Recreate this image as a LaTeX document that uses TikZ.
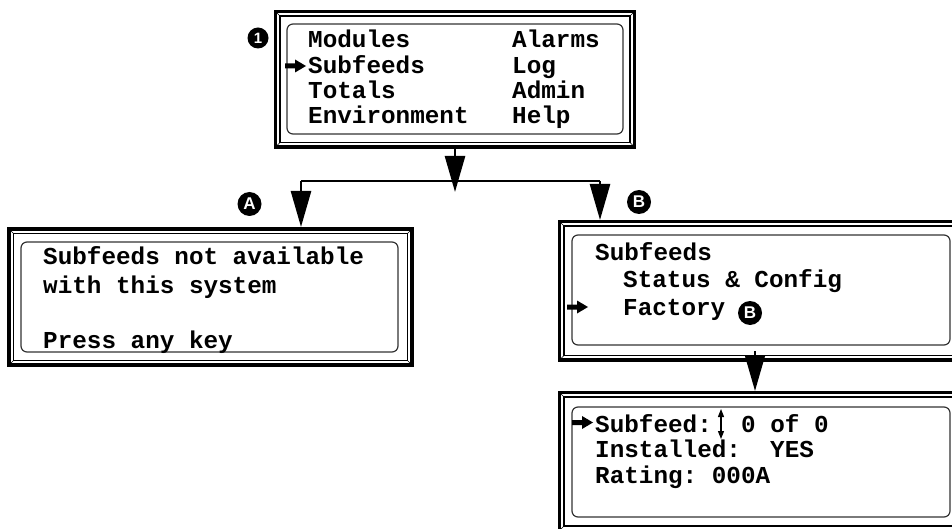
\documentclass[tikz,border=0pt]{standalone}
\usepackage{fontspec}
\setmonofont{Liberation Mono}
\setsansfont{Liberation Sans}
\usetikzlibrary{arrows.meta}
\begin{document}
\begin{tikzpicture}[x=1pt,y=-1pt,
  outerframe/.style={draw, rectangle, line width=3.4pt, inner sep=0pt, outer sep=0pt},
  innerframe/.style={line width=1.1pt},
  bevel/.style={line width=0.5pt},
  screen/.style={line width=1.2pt, draw=black!80, rounded corners=6pt},
  lcd/.style={font=\fontsize{24.3}{26}\selectfont\ttfamily\bfseries, inner sep=0pt, anchor=base west},
  conn/.style={line width=2.6pt},
  arr/.style={conn, -{Triangle[width=20pt,length=36pt]}},
  badge/.style={circle, fill=black, inner sep=0pt, minimum size=24pt, text=white,
    font=\fontsize{17}{17}\selectfont\sffamily\bfseries}
]
\useasboundingbox (0,0) rectangle (952,529);
\clip (0,0) rectangle (952,529);

% ---------- top menu box ----------
\node[outerframe, minimum width=359pt, minimum height=135.5pt] (T) at (455,79.25) {};
\draw[innerframe] (280,16) rectangle (630,142.5);
\draw[bevel] (280,16) -- (275.5,11.5) (630,16) -- (634.5,11.5) (280,142.5) -- (275.5,147) (630,142.5) -- (634.5,147);
\draw[screen] (287,24) rectangle (623,134);
\node[lcd] (t1) at (308,48) {Modules};
\node[lcd] (t2) at (512,48) {Alarms};
\node[lcd] (t3) at (308,74) {Subfeeds};
\node[lcd] (t4) at (512,74) {Log};
\node[lcd] (t5) at (308,99) {Totals};
\node[lcd] (t6) at (512,99) {Admin};
\node[lcd] (t7) at (308,124) {Environment};
\node[lcd] (t8) at (512,124) {Help};
\fill (285,63.5) -- (295,63.5) -- (295,59.5) -- (306,66) -- (295,72.5) -- (295,68.5) -- (285,68.5) -- cycle;
\node[badge, minimum size=21pt, font=\fontsize{15}{15}\selectfont\sffamily\bfseries] (b1) at (258,38) {1};

% ---------- box A ----------
\node[outerframe, minimum width=403pt, minimum height=136pt] (A) at (210.5,297) {};
\draw[innerframe] (13.5,233.5) rectangle (407.5,360.5);
\draw[bevel] (13.5,233.5) -- (9,229) (407.5,233.5) -- (412,229) (13.5,360.5) -- (9,365) (407.5,360.5) -- (412,365);
\draw[screen] (21,242) rectangle (398,352);
\node[lcd] (a1) at (43,265) {Subfeeds not available};
\node[lcd] (a2) at (43,293) {with this system};
\node[lcd] (a3) at (43,348) {Press any key};
\node[badge] (ba) at (249.5,204) {A};

% ---------- box B ----------
\node[outerframe, minimum width=405.5pt, minimum height=138.5pt] (B) at (762.25,290.75) {};
\draw[innerframe] (564,226) rectangle (960,355.5);
\draw[bevel] (564,226) -- (559.5,221.5) (564,355.5) -- (559.5,360);
\draw[screen] (572,235) rectangle (950,345);
\node[lcd] (s1) at (595,260) {Subfeeds};
\node[lcd] (s2) at (623,287) {Status \& Config};
\node[lcd] (s3) at (623,315) {Factory};
\fill (567,304.5) -- (577,304.5) -- (577,300.5) -- (588,307) -- (577,313.5) -- (577,309.5) -- (567,309.5) -- cycle;
\node[badge] (bb) at (639,202) {B};
\node[badge] (bb2) at (750,313) {B};

% ---------- box C ----------
\node[outerframe, minimum width=405.5pt, minimum height=142.5pt] (C) at (762.25,463.75) {};
\draw[innerframe] (564,397) rectangle (960,526);
\draw[bevel] (564,397) -- (559.5,392.5) (564,526) -- (559.5,530.5);
\draw[screen] (572,407) rectangle (950,517);
\node[lcd] (c1) at (595,432) {Subfeed:};
\node[lcd] (c2) at (741,432) {0 of 0};
\node[lcd] (c3) at (595,457) {Installed:\ \ YES};
\node[lcd] (c4) at (595,483) {Rating: 000A};
\fill (572,420) -- (582,420) -- (582,416) -- (593,422.5) -- (582,429) -- (582,425) -- (572,425) -- cycle;
\coordinate (ud1) at (721,409);
\coordinate (ud2) at (721,439);
\draw[line width=1.2pt, {Triangle[width=6pt,length=8pt]}-{Triangle[width=6pt,length=8pt]}] (ud1) -- (ud2);

% ---------- connectors ----------
\coordinate (tip) at (455,192);
\coordinate (jl) at (301,181);
\coordinate (jr) at (600,181);
\coordinate (bs) at (755,351);
\draw[conn] (jl) -- (jr);
\draw[arr] (T.south) -- (tip);
\draw[arr, shorten >=2pt] (jl) -- (jl |- A.north);
\draw[arr, shorten >=1.5pt] (jr) -- (jr |- B.north);
\draw[arr, shorten >=1.5pt] (bs) -- (bs |- C.north);
\end{tikzpicture}
\end{document}
